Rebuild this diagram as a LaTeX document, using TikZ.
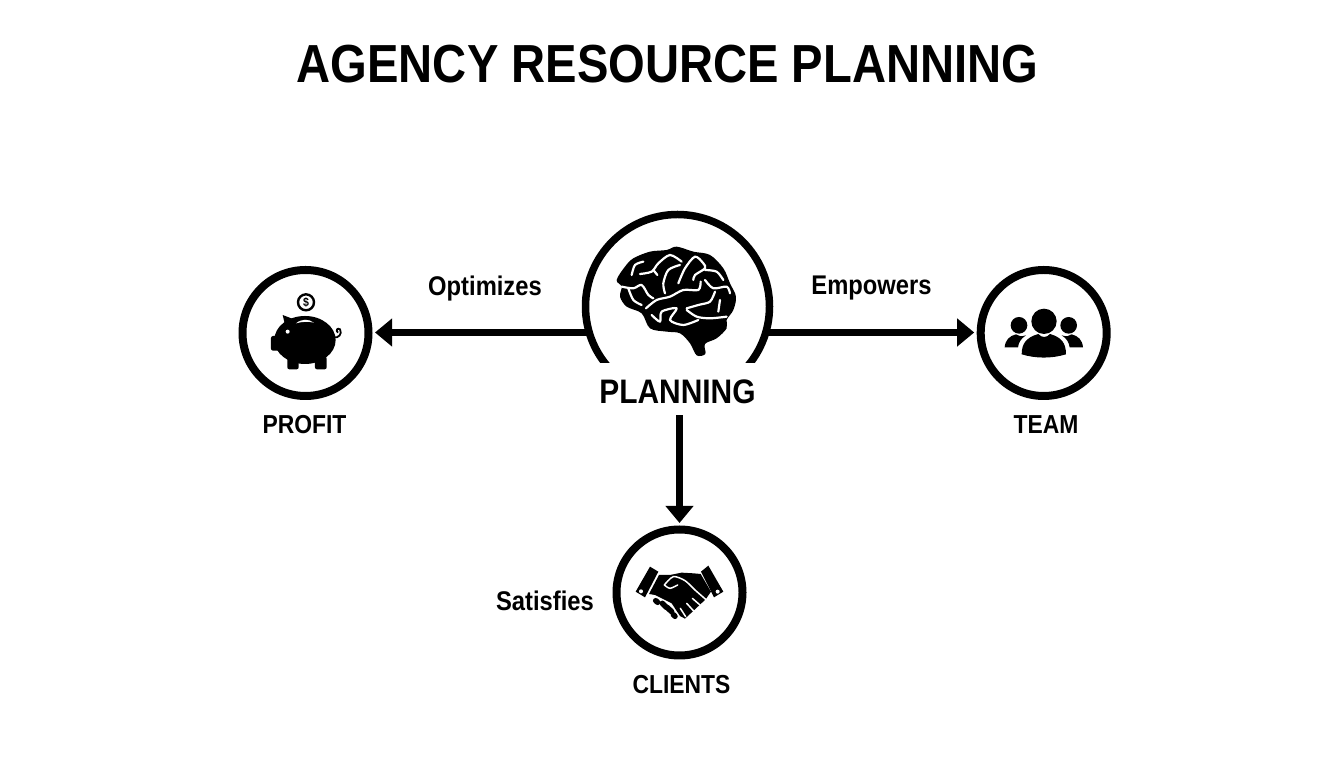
\documentclass[tikz,border=0pt]{standalone}
\usepackage{fontspec}
\setmainfont{Liberation Sans}[FakeStretch=0.88]
\usetikzlibrary{arrows.meta, positioning}
\tikzset{
  ring/.style={circle, draw=black, line width=8pt, minimum size=126pt, inner sep=0pt},
  flow/.style={-{Triangle[length=17pt,width=27pt]}, line width=7.5pt, black, shorten >=2.5pt},
  heading/.style={font=\fontsize{53.6}{54}\selectfont\bfseries, inner sep=0pt},
  hubname/.style={font=\fontsize{34}{34}\selectfont\bfseries, inner sep=0pt},
  ringname/.style={font=\fontsize{26}{26}\selectfont\bfseries, inner sep=0pt},
  verb/.style={font=\fontsize{27}{27}\selectfont\bfseries, inner sep=0pt},
  sulcus/.style={white, line width=2.2pt, line cap=round, line join=round},
  gap/.style={white, line width=1.5pt, line cap=round, line join=round}
}
\begin{document}
\begin{tikzpicture}[x=1pt,y=1pt]
\useasboundingbox (0,0) rectangle (1344,768);

% title
\node[heading] (title) at (667.5,704) {AGENCY RESOURCE PLANNING};

% rings
\node[ring] (profit) at (305.5,435) {};
\node[ring] (team) at (1043.7,435) {};
\node[ring] (clients) at (679.5,175.5) {};

% hub arc, open at the bottom
\coordinate (hubcentre) at (677.5,461.5);
\begin{scope}
  \clip (570,405) rectangle (790,570);
  \draw[line width=7.5pt] (hubcentre) circle (92);
\end{scope}
\node[hubname] (planning) at (677.5,376) {PLANNING};
\coordinate (hubleft) at (587,435.5);
\coordinate (hubright) at (768,435.5);

% labels
\node[ringname] (profitname) at (304.5,343) {PROFIT};
\node[ringname] (teamname) at (1046,343) {TEAM};
\node[ringname] (clientsname) at (681.5,83) {CLIENTS};
\node[verb] (optimizes) at (485,479) {Optimizes};
\node[verb] (empowers) at (871.5,480) {Empowers};
\node[verb] (satisfies) at (545,167.5) {Satisfies};

% arrows
\draw[flow] (hubleft) -- (hubleft -| profit.east);
\draw[flow] (hubright) -- (hubright -| team.west);
\draw[flow] ([yshift=-11pt]planning.south -| clients.north) -- (clients.north);

% brain
\begin{scope}[shift={(570,568)},x=0.3333pt,y=-0.3333pt]
  \fill plot[smooth cycle,tension=0.55] coordinates {(140,240) (165,200) (190,175) (240,155) (290,150) (320,140) (370,155) (420,165) (460,205) (480,250) (498,290) (490,330) (470,360) (470,385) (440,415) (405,432) (406,462) (380,466) (360,430) (330,400) (290,395) (240,385) (215,340) (170,320) (150,290) (155,260)};
  \draw[sulcus] plot[smooth] coordinates {(155,260) (190,265) (215,255) (235,285) (250,295)};
  \draw[sulcus] plot[smooth] coordinates {(175,265) (190,300) (215,315)};
  \draw[sulcus] plot[smooth] coordinates {(185,225) (195,195) (220,185)};
  \draw[sulcus] plot[smooth] coordinates {(210,222) (245,215) (265,190) (300,165) (335,185)};
  \draw[sulcus] (250,210) -- (262,225);
  \draw[sulcus] plot[smooth] coordinates {(330,195) (295,210) (280,250) (285,280)};
  \draw[sulcus] plot[smooth] coordinates {(228,325) (260,300) (300,290) (340,270) (385,270) (392,245)};
  \draw[sulcus] plot[smooth] coordinates {(325,250) (345,205) (375,170) (400,190) (405,205) (375,225) (370,240)};
  \draw[sulcus] plot[smooth] coordinates {(405,210) (440,215) (460,240)};
  \draw[sulcus] plot[smooth] coordinates {(405,240) (430,265) (470,260) (480,280)};
  \draw[sulcus] plot[smooth] coordinates {(350,325) (385,315) (420,305) (435,275)};
  \draw[sulcus] (450,300) -- (445,335);
  \draw[sulcus] plot[smooth] coordinates {(350,330) (380,350) (420,355) (470,350)};
  \draw[sulcus] plot[smooth] coordinates {(245,345) (270,365) (275,335) (320,325) (300,360) (340,375) (385,360)};
\end{scope}

% piggy bank
\begin{scope}[shift={(230,508)},x=0.3333pt,y=-0.3333pt]
  \draw[line width=2.4pt] (228,127) circle (24);
  \node[font=\fontsize{12}{12}\selectfont\bfseries, inner sep=0pt] (coin) at (228,127) {\$};
  \fill (225,240) ellipse (92 and 72);
  \fill[rounded corners=2pt] (123,228) rectangle (160,272);
  \fill (158,165) -- (197,180) -- (170,215) -- cycle;
  \fill[rounded corners=2pt] (172,290) rectangle (206,328);
  \fill[rounded corners=2pt] (255,290) rectangle (290,328);
  \draw[line width=1.8pt] (312,232) .. controls (325,235) and (338,222) .. (330,208) .. controls (322,202) and (316,212) .. (324,218);
  \fill[white] (173,215) circle (6);
  \fill[white] (198,190) .. controls (215,176) and (235,176) .. (252,188) .. controls (235,184) and (215,185) .. (198,190) -- cycle;
\end{scope}

% team
\begin{scope}[shift={(970,508)},x=0.3333pt,y=-0.3333pt]
  \fill (222,184) circle (38);
  \fill (147,196) circle (25);
  \fill (296,196) circle (25);
  \fill (155,283) .. controls (155,250) and (170,232) .. (205,222) .. controls (215,234) and (230,234) .. (240,222) .. controls (275,232) and (288,250) .. (288,283) .. controls (245,296) and (198,296) .. (155,283) -- cycle;
  \fill (104,262) .. controls (106,240) and (118,228) .. (138,223) .. controls (145,230) and (155,230) .. (168,226) .. controls (152,236) and (146,248) .. (144,262) -- cycle;
  \fill (339,262) .. controls (337,240) and (325,228) .. (305,223) .. controls (298,230) and (288,230) .. (275,226) .. controls (291,236) and (297,248) .. (299,262) -- cycle;
\end{scope}

% handshake
\begin{scope}[shift={(605,248)},x=0.3333pt,y=-0.3333pt]
  \fill (135,140) -- (160,155) -- (120,232) -- (92,215) -- cycle;
  \fill (310,137) -- (355,215) -- (327,232) -- (288,155) -- cycle;
  \fill[white] (108,214) circle (6);
  \fill[white] (338,215) circle (6);
  \fill (162,165) -- (195,165) -- (230,158) -- (265,160) -- (287,162) -- (318,215) -- (302,238) -- (240,296) -- (225,288) -- (200,250) -- (150,225) -- (132,222) -- cycle;
  \draw[line width=5.5pt,line cap=round] (152,242) -- (158,247);
  \draw[line width=5.5pt,line cap=round] (172,250) -- (184,262);
  \draw[line width=5.5pt,line cap=round] (186,262) -- (200,275);
  \draw[line width=5.5pt,line cap=round] (205,284) -- (210,289);
  \draw[gap] plot[smooth] coordinates {(178,195) (205,170) (240,182) (270,210) (302,238)};
  \draw[gap] plot[smooth] coordinates {(178,195) (195,205) (218,195)};
  \draw[gap] (285,255) -- (262,235);
  \draw[gap] (265,272) -- (245,250);
  \draw[gap] (242,290) -- (226,265);
\end{scope}
\end{tikzpicture}
\end{document}
